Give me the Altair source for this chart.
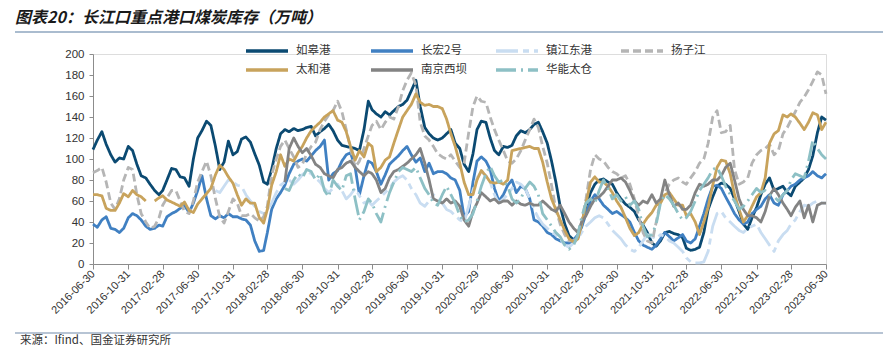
import calendar
import altair as alt
import pandas as pd

# ---------------- data (semi-monthly readings, 2016-06-30 .. 2023-06-30) ----------------
ROW1_NAMES = ["如皋港", "长宏2号", "镇江东港", "扬子江"]
ROW1_COLORS = ["#0b4a72", "#4080c2", "#c9ddf1", "#b5b5b5"]
ROW1_DASHES = [[1, 0], [1, 0], [22, 5, 6, 5], [8, 4]]
ROW2_NAMES = ["太和港", "南京西坝", "华能太仓"]
ROW2_COLORS = ["#c8a35c", "#838383", "#8dc0c5"]
ROW2_DASHES = [[1, 0], [1, 0], [20, 5, 2, 5]]

TICK_DATES = ["2016-06-30", "2016-10-31", "2017-02-28", "2017-06-30", "2017-10-31",
              "2018-02-28", "2018-06-30", "2018-10-31", "2019-02-28", "2019-06-30",
              "2019-10-31", "2020-02-29", "2020-06-30", "2020-10-31", "2021-02-28",
              "2021-06-30", "2021-10-31", "2022-02-28", "2022-06-30", "2022-10-31",
              "2023-02-28", "2023-06-30"]

RUGAO = [109, 118, 126, 114, 104, 97, 101, 100,
         112, 108, 95, 84, 82, 76, 70, 66,
         70, 80, 91, 90, 83, 82, 74, 100,
         120, 127, 136, 132, 112, 90, 97, 117,
         104, 107, 119, 121, 116, 105, 94, 78,
         76, 90, 110, 124, 128, 126, 129, 127,
         128, 130, 131, 122, 126, 129, 133, 127,
         118, 113, 112, 111, 110, 108, 128, 155,
         147, 143, 140, 145, 142, 146, 150, 152,
         156, 165, 175, 150, 130, 124, 120, 118,
         120, 124, 128, 115, 110, 95, 88, 105,
         128, 136, 135, 120, 108, 104, 112, 111,
         113, 122, 127, 125, 128, 133, 135, 126,
         115, 98, 78, 55, 38, 27, 23, 25,
         38, 55, 68, 76, 80, 81, 78, 76,
         68, 62, 57, 54, 50, 42, 37, 30,
         20, 17, 22, 30, 31, 29, 28, 25,
         15, 13, 14, 16, 30, 52, 64, 74,
         77, 76, 72, 62, 50, 38, 33, 44,
         54, 66, 76, 82, 70, 72, 74, 68,
         65, 74, 78, 82, 90, 103, 125, 140,
         137]

CHANGHONG = [38, 35, 42, 45, 34, 33, 30, 34,
             44, 48, 46, 42, 36, 33, 34, 37,
             36, 45, 48, 50, 53, 56, 49, 58,
             70, 84, 62, 46, 43, 46, 44, 48,
             45, 45, 43, 42, 37, 22, 12, 13,
             30, 52, 62, 68, 75, 86, 95, 98,
             100, 98, 103, 108, 112, 118, 80, 86,
             89, 98, 104, 106, 92, 66, 84, 98,
             96, 88, 76, 85, 95, 99, 103, 108,
             112, 104, 97, 101, 88, 96, 86, 88,
             88, 86, 82, 80, 70, 45, 50, 78,
             98, 102, 98, 90, 72, 60, 66, 75,
             80, 68, 74, 72, 62, 42, 40, 36,
             30, 28, 24, 22, 20, 20, 23, 28,
             35, 48, 60, 66, 62, 56, 52, 48,
             50, 47, 44, 40, 30, 22, 18, 16,
             14, 18, 24, 30, 26, 22, 25, 28,
             22, 20, 24, 36, 48, 62, 74, 75,
             72, 64, 56, 48, 42, 38, 40, 48,
             52, 55, 62, 66, 58, 56, 66, 70,
             74, 76, 80, 82, 84, 88, 84, 82,
             86]

TAIHE = [66, 66, 65, 53, 51, 51, 58, 67,
         64, 70, 66, 64, 60, None, 60, 63,
         65, 61, 59, 57, 55, 59, 51, 49,
         57, 62, 67, 72, 85, 94, 90, 83,
         77, 66, 56, 62, 58, 58, 44, 39,
         52, 75, 88, 104, 93, 100, 98, 106,
         112, 120, 127, 131, 135, 140, 143, 146,
         137, 135, 126, 112, 99, 108, 102, 115,
         112, 88, 92, 99, 102, 115, 128, 140,
         146, 152, 162, 154, 151, 152, 150, 150,
         148, 138, 124, 112, 96, 78, 66, 66,
         80, 89, 84, 78, 77, 78, 76, 80,
         108, 109, 110, 111, 112, 110, 110, 97,
         78, 62, 52, 42, 32, 24, 21, 24,
         38, 58, 78, 83, 78, 78, 74, 68,
         60, 54, 44, 34, 27, 30, 38, 44,
         49, 56, 58, 66, 68, 62, 56, 56,
         46, 48, 40, 28, 40, 54, 75, 92,
         99, 98, 86, 66, 52, 40, 46, 55,
         64, 68, 82, 115, 124, 127, 142, 140,
         143, 140, 134, 128, 135, 144, 142, 128,
         135]

YANGZIJIANG = [87, 89, 92, 78, 58, 52, 62, 80,
               92, 90, 66, 48, 40, 34, 36, 44,
               56, 63, 70, 70, 60, 50, 48, 60,
               78, 88, 98, 84, 62, 45, 39, 50,
               62, 58, 46, 46, 48, 44, 41, 45,
               55, 85, 100, 112, 118, 110, 102, 92,
               95, 105, 112, 116, 128, 136, 142, 146,
               155, 145, 128, 110, 92, 98, 110, 122,
               132, 136, 128, 135, 140, 138, 150, 165,
               175, 182, 170, 135, 122, 118, 112, 105,
               102, 100, 104, 98, 92, 96, 125, 150,
               160, 155, 154, 140, 128, 118, 108, 98,
               96, 100, 108, 118, 128, 138, 130, 112,
               96, 75, 52, 38, 28, 22, 22, 26,
               40, 62, 90, 104, 100, 98, 92, 88,
               86, 82, 84, 76, 62, 45, 30, 22,
               20, 40, 60, 68, 76, 80, 82, 78,
               76, 82, 88, 96, 100, 115, 140, 146,
               125, 126, 132, 90, 76, 78, 82, 96,
               104, 108, 110, 114, 104, 108, 124, 130,
               137, 145, 154, 159, 166, 174, 183, 180,
               162]

NANJING = [None] * 44 + [
    78, 110, 120, 112,
    106, 110, 103, 95, 92, 86, 84, 82,
    90, 92, 96, 98, 92, 88, 84, 88,
    86, 80, 68, 72, 82, 88, 90, 93,
    96, 100, 104, 110, 96, 80, 62, 60,
    58, 62, 58, 60, 55, 42, 36, 50,
    58, 68, 64, 60, 62, 58, 60, 60,
    56, 60, 57, 56, 58, 56, 56, 60,
    56, 52, 50, 56, 48, 40, 34, 30,
    40, 46, 55, 62, 64, 68, 74, 80,
    80, 82, 78, 70, 60, 56, 60, 58,
    66, 58, 62, 80, 66, 55, 58, 52,
    52, 56, 68, 76, 74, 76, 80, 80,
    84, 92, 96, 80, 62, 52, 46, 46,
    44, 40, 50, 65, 72, 66, 58, 52,
    46, 54, 60, 44, 56, 40, 56, 58,
    58]

ZHENJIANG = [None] * 28 + [
    70, 68, 74, 80,
    78, 75, 74, 66, 60, 55, 50, 48,
    52, 58, 68, 75, 78, 80, 76, 80,
    85, 88, 86, 82, 78, 72, 68, 72,
    76, 70, 62, 66, 72, 65, 58, 60,
    56, 60, 64, 68, 72, 78, 82, 84,
    80, 72, 66, 58, 55, 60, 66, 62,
    58, 52, 50, 46, 42, 40, 55, 70,
    82, 88, 84, 78, 66, 58, 62, 66,
    72, 78, 76, 72, 62, 52, 44, 38,
    34, 30, 28, 24, 18, 16, 20, 24,
    30, 36, 40, 44, 46, 44, 38, 32,
    28, 24, 18, 14, 12, 16, 22, 28,
    26, 24, 28, 26, 22, 20, 16, 12,
    6, 2, 1, 1, 2, 12, 36, 48,
    50, 44, 40, 36, 32, 30, 34, 36,
    38, 30, 24, 18, 12, 22, 28, 32,
    38, 42, 50, 56, 55, 58, 60, 58,
    58]

HUANENG = [None] * 44 + [
    72, 70, 80, 86,
    82, 90, 88, 80, 86, 70, 64, 80,
    74, 70, 84, 86, 62, 42, 50, 62,
    58, 48, 40, 55, 68, 78, 88, 92,
    90, 88, 92, 82, 72, 66, 58, 56,
    66, 74, 66, 58, 46, 40, 42, 48,
    60, 74, 86, 93, 84, 78, 80, 74,
    62, 58, 62, 72, 78, 74, 66, 48,
    42, 36, 30, 26, 18, 14, 18, 28,
    45, 58, 62, 58, 70, 80, 72, 62,
    66, 60, 64, 56, 60, 52, 36, 26,
    28, 38, 58, 66, 62, 56, 48, 42,
    44, 50, 60, 70, 76, 82, 90, 92,
    84, 74, 66, 60, 52, 55, 60, 66,
    72, 68, 70, 66, 64, 60, 66, 70,
    80, 86, 84, 82, 98, 118, 110, 104,
    100]

TITLE = "图表20：长江口重点港口煤炭库存（万吨）"
SOURCE = "来源：Ifind、国金证券研究所"


# ---------------- build tables ----------------
def semi_monthly_dates():
    out = ["2016-06-30"]
    y, m = 2016, 7
    while (y, m) <= (2023, 6):
        last = calendar.monthrange(y, m)[1]
        out.append(f"{y}-{m:02d}-15")
        out.append(f"{y}-{m:02d}-{last:02d}")
        m += 1
        if m > 12:
            m, y = 1, y + 1
    return out


DATES = semi_monthly_dates()
values_by_name = {
    "如皋港": RUGAO, "长宏2号": CHANGHONG, "镇江东港": ZHENJIANG, "扬子江": YANGZIJIANG,
    "太和港": TAIHE, "南京西坝": NANJING, "华能太仓": HUANENG,
}


def table(names):
    rows = []
    for name in names:
        vals = values_by_name[name]
        seg = 0
        prev_none = True
        for d, v in zip(DATES, vals):
            if v is None:
                prev_none = True
                continue
            if prev_none:
                seg += 1
                prev_none = False
            rows.append({"date": d, "value": v, "series": name, "seg": f"{name}-{seg}"})
    return pd.DataFrame(rows)


def to_ms(s):
    return int(pd.Timestamp(s, tz="UTC").value // 10**6)


tick_ms = [to_ms(d) for d in TICK_DATES]

AXIS_GRAY = "#8c8c8c"
LABEL_FONT = "Liberation Sans"
CJK = "Noto Sans CJK SC"

x_enc = alt.X("date:T",
              scale=alt.Scale(type="utc", domain=[tick_ms[0], tick_ms[-1]], nice=False),
              axis=alt.Axis(values=tick_ms, format="%Y-%m-%d", labelAngle=-45,
                            labelAlign="right", labelBaseline="middle", title=None,
                            grid=False, tickSize=5, tickColor=AXIS_GRAY, domainColor=AXIS_GRAY,
                            labelFont=LABEL_FONT, labelFontSize=11, labelColor="#333333",
                            labelPadding=3, labelOverlap=False, labelFlush=False))
y_enc = alt.Y("value:Q",
              scale=alt.Scale(domain=[0, 200], nice=False, zero=True),
              axis=alt.Axis(values=list(range(0, 201, 20)), title=None, grid=False,
                            tickSize=4, tickColor=AXIS_GRAY, domainColor=AXIS_GRAY,
                            labelFont=LABEL_FONT, labelFontSize=11.5, labelColor="#333333",
                            labelPadding=5))


def legend_row(legend_y):
    return alt.Legend(
        title=None, orient="none", legendX=151, legendY=legend_y, columns=4,
        direction="horizontal", symbolType="stroke", symbolSize=1764, symbolStrokeWidth=3.5,
        labelFont=CJK, labelFontSize=11.5, labelColor="#333333", labelOffset=6,
        columnPadding=22, gridAlign="all",
    )


def line_layer(names, colors, dashes, legend_y):
    lg = legend_row(legend_y)
    return alt.Chart(table(names)).mark_line(strokeWidth=2.8, strokeJoin="round").encode(
        x=x_enc,
        y=y_enc,
        color=alt.Color("series:N", scale=alt.Scale(domain=names, range=colors), legend=lg),
        strokeDash=alt.StrokeDash("series:N", scale=alt.Scale(domain=names, range=dashes),
                                  legend=lg),
        detail="seg:N",
    )


row1 = line_layer(ROW1_NAMES, ROW1_COLORS, ROW1_DASHES, -26)
row2 = line_layer(ROW2_NAMES, ROW2_COLORS, ROW2_DASHES, -7)

one = pd.DataFrame({"t": [TITLE]})
src = pd.DataFrame({"t": [SOURCE]})
dummy = pd.DataFrame({"a": [0]})

title = alt.Chart(one).mark_text(
    align="left", baseline="middle", font=CJK, fontSize=16, fontWeight="bold",
    fontStyle="italic", color="#1a1a1a",
).encode(x=alt.value(-78), y=alt.value(-36), text="t:N")

source = alt.Chart(src).mark_text(
    align="left", baseline="middle", font=CJK, fontSize=11.5, color="#333333",
).encode(x=alt.value(-73), y=alt.value(287), text="t:N")

top_rule = alt.Chart(dummy).mark_rule(color="#8ea6bf", strokeWidth=1.5).encode(
    x=alt.value(-78), x2=alt.value(790), y=alt.value(-22))
bottom_rule = alt.Chart(dummy).mark_rule(color="#9fb1c6", strokeWidth=1.5).encode(
    x=alt.value(-78), x2=alt.value(790), y=alt.value(279))

chart = alt.layer(row1, row2, title, source, top_rule, bottom_rule).resolve_scale(
    color="independent", strokeDash="independent"
).properties(
    width=733, height=210,
    autosize=alt.AutoSizeParams(type="none"),
    padding={"left": 93, "top": 54, "right": 57, "bottom": 86},
).configure_view(stroke=None).configure(background="white")

chart.save("out.html", embed_options={"renderer": "svg", "actions": False})
